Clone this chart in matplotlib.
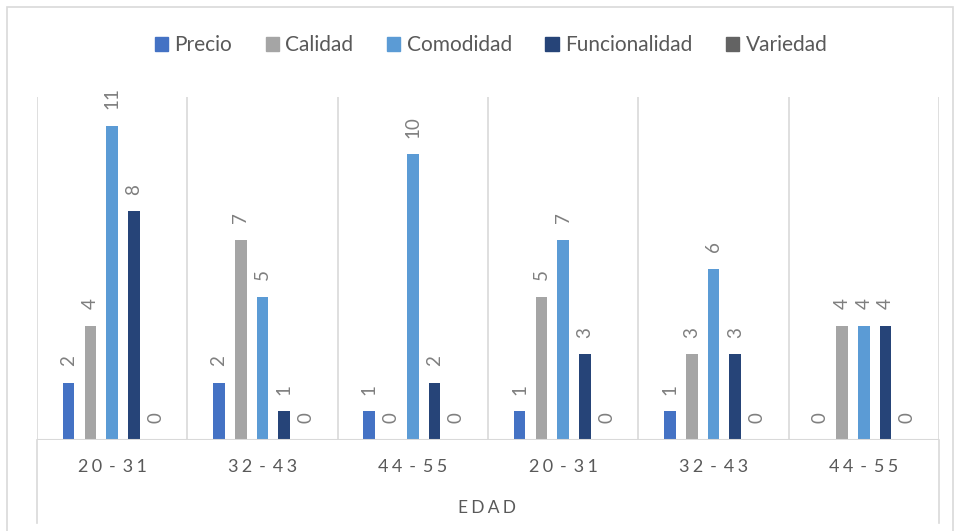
import matplotlib.pyplot as plt
from matplotlib.patches import Rectangle, Patch
import numpy as np

plt.rcParams['font.family'] = ['Lato', 'DejaVu Sans']

# Datos por grupo de edad
grupos = ['20 - 31', '32 - 43', '44 - 55', '20 - 31', '32 - 43', '44 - 55']
series = ['Precio', 'Calidad', 'Comodidad', 'Funcionalidad', 'Variedad']
precio = [2, 2, 1, 1, 1, 0]
calidad = [4, 7, 0, 5, 3, 4]
comodidad = [11, 5, 10, 7, 6, 4]
funcionalidad = [8, 1, 2, 3, 3, 4]
variedad = [0, 0, 0, 0, 0, 0]

valores = [precio, calidad, comodidad, funcionalidad, variedad]
colores = ['#4472C4', '#A5A5A5', '#5B9BD5', '#264478', '#636363']
texto = '#595959'
linea = '#D9D9D9'

fig = plt.figure(figsize=(9.56, 5.31), dpi=100)
W, H = 956, 531

# marco exterior del grafico
fig.patches.append(Rectangle((7 / W, -0.01), 946 / W, (H - 7) / H + 0.01,
                             transform=fig.transFigure, fill=False,
                             edgecolor=linea, lw=1.2))

ax = fig.add_axes([37 / W, 91 / H, 902 / W, 343 / H])
x = np.arange(len(grupos))
paso = 0.145
ancho = 0.078

for i, (nombre, vals, c) in enumerate(zip(series, valores, colores)):
    pos = x + (i - 2) * paso
    ax.bar(pos, vals, width=ancho, color=c, label=nombre, zorder=3)
    for px, v in zip(pos, vals):
        ax.annotate(str(v), (px, v), xytext=(0, 12), textcoords='offset points',
                    rotation=90, ha='center', va='bottom', color='#7F7F7F',
                    fontsize=13.5)

ax.set_xlim(-0.5, len(grupos) - 0.5)
ax.set_ylim(0, 12)
for s in ax.spines.values():
    s.set_visible(False)
ax.set_xticks([])
ax.set_yticks([])

# separadores entre grupos
for k in range(len(grupos) + 1):
    ax.axvline(k - 0.5, color=linea, lw=1.2, zorder=1)
ax.axhline(0, color=linea, lw=1.5, zorder=4)
for xe in (-0.5, len(grupos) - 0.5):
    ax.plot([xe, xe], [0, -83 / 343 * 12], color=linea, lw=1.2, clip_on=False)

esp = '\u2009\u200a'
for xi, g in zip(x, grupos):
    a, b = g.split(' - ')
    etiqueta = esp.join(a) + ' \u2009-\u2009 ' + esp.join(b)
    ax.text(xi, -27 / 343 * 12, etiqueta, ha='center', va='center',
            color=texto, fontsize=13)

fig.text(487 / W, 1 - 508 / H, esp.join('EDAD'), ha='center', va='center',
         color=texto, fontsize=12.5)

handles = [Patch(color=c, label=n) for n, c in zip(series, colores)]
fig.legend(handles=handles, loc='center', bbox_to_anchor=(491 / W, 1 - 45 / H),
           ncol=5, frameon=False, fontsize=15, labelcolor=texto,
           handlelength=0.65, handleheight=0.65, handletextpad=0.3,
           columnspacing=1.6)

fig.savefig('out.png', dpi=100)
